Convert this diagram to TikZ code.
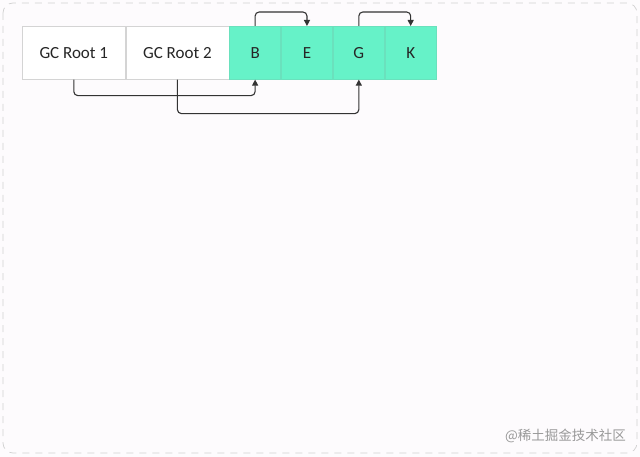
\documentclass[tikz,border=0pt]{standalone}
\usepackage{fontspec}
\setmainfont{Carlito}
\newfontfamily\cjk{Noto Sans CJK SC}
\usetikzlibrary{arrows.meta}
\definecolor{bgc}{HTML}{FDFBFD}
\definecolor{mint}{HTML}{66F2C8}
\definecolor{cellline}{HTML}{D4D4D4}
\tikzset{
  cell/.style={draw=cellline, line width=0.6pt, minimum height=53pt, inner sep=0pt, font=\fontsize{17}{20}\selectfont, text=black!85},
  rootcell/.style={cell, fill=white, minimum width=103pt},
  objcell/.style={cell, fill=mint, draw=mint!85!gray, minimum width=51.25pt},
  link/.style={draw=black!80, line width=1.1pt, rounded corners=4pt, -{Triangle[length=6pt,width=6pt]}},
}
\begin{document}
\begin{tikzpicture}[x=1pt,y=-1pt]
\useasboundingbox (0,0) rectangle (640,457);
\fill[bgc] (0,0) rectangle (640,457);
\draw[draw=black!18, dash pattern=on 7pt off 6pt, rounded corners=10pt, line width=0.7pt] (3,3) rectangle (637,453);
\node[rootcell, anchor=north west] (r1) at (22,26) {GC Root 1};
\node[rootcell, anchor=north west] (r2) at (r1.north east) {GC Root 2};
\node[objcell, anchor=north west] (b) at (r2.north east) {B};
\node[objcell, anchor=north west] (e) at (b.north east) {E};
\node[objcell, anchor=north west] (g) at (e.north east) {G};
\node[objcell, anchor=north west] (k) at (g.north east) {K};
\path[link] (r1.south) -- ++(0,16) -| (b.south);
\path[link] (r2.south) -- ++(0,34) -| (g.south);
\path[link] (b.north) -- ++(0,-14) -| (e.north);
\path[link] (g.north) -- ++(0,-14) -| (k.north);
\node[anchor=east, text=black!40, font=\cjk\fontsize{13.5}{16}\selectfont, inner sep=0pt] (wm) at (626,436) {@稀土掘金技术社区};
\end{tikzpicture}
\end{document}
